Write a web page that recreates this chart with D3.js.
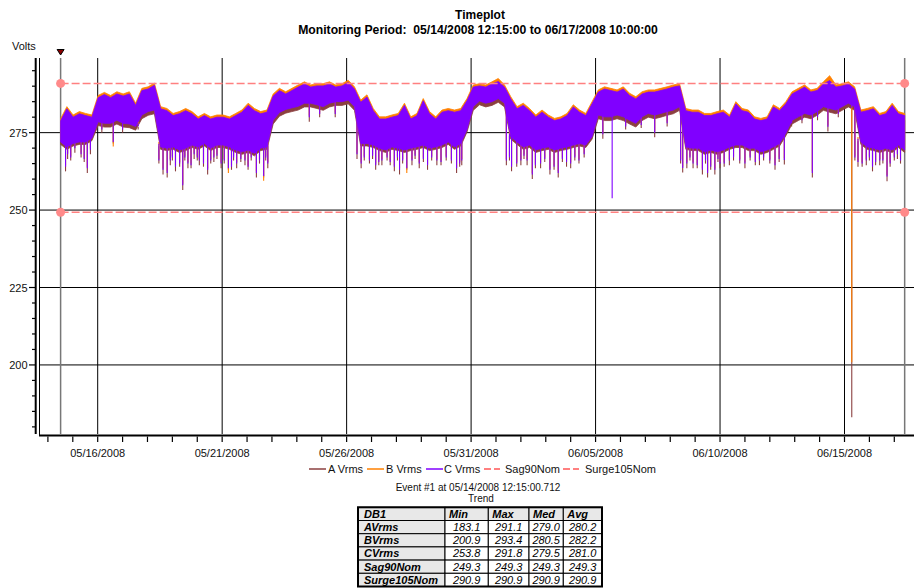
<!DOCTYPE html>
<html><head><meta charset="utf-8">
<script src="https://cdn.jsdelivr.net/npm/d3@7"></script>
<style>body{margin:0;background:#fff}svg{display:block;font-family:"Liberation Sans",Arial,sans-serif}text{white-space:pre}</style>
</head><body><svg id="c" width="914" height="588"></svg>
<script>
// ---------------- DATA ----------------
const seriesNames = ["A Vrms", "B Vrms", "C Vrms"];
const seriesColors = ["#8B4040", "#FF8000", "#8000FF"];
const dataStart = "2008-05-14 12:15";
const dataEnd = "2008-06-17 10:00";
const spikeBase = "2008-05-14 12:00";

// upper / lower envelope of each series, sampled evenly from dataStart to dataEnd (~6 h)
const aHi = [277.3,281.2,278.5,279.6,279.0,278.5,284.8,285.8,284.8,286.0,
 285.3,286.0,282.3,287.1,287.6,288.8,281.2,280.6,279.0,279.6,
 280.6,279.6,277.9,279.0,277.9,278.5,278.5,277.9,279.0,280.1,
 282.3,280.6,279.6,280.1,285.3,287.1,286.0,287.1,288.2,289.2,
 288.2,288.6,288.6,289.2,288.2,288.6,289.7,287.6,283.3,285.0,
 280.6,277.9,277.9,278.5,279.0,282.3,277.9,279.0,283.8,279.6,
 277.9,280.1,280.6,280.1,280.6,283.8,288.2,288.6,288.2,289.2,
 290.3,288.2,284.4,281.2,282.3,280.6,278.5,280.1,278.5,277.4,
 277.9,279.0,281.8,280.1,279.0,282.8,286.6,287.6,287.1,286.6,
 287.6,285.5,284.4,286.0,286.6,286.6,287.1,287.6,288.2,288.6,
 280.6,280.1,280.1,279.0,279.0,279.6,280.1,278.5,282.8,280.6,
 280.1,277.9,277.4,277.9,281.8,280.6,282.8,286.0,287.1,288.2,
 286.6,287.1,289.2,291.1,288.2,288.6,289.2,287.6,280.1,280.6,
 281.2,279.0,279.6,282.3,279.6,279.0];
const aLo = [271.2,269.6,270.7,271.2,271.2,272.4,
 277.3,276.8,276.8,277.8,276.8,276.6,275.8,279.5,280.6,281.1,
 269.6,269.2,269.6,268.6,269.2,270.2,269.6,270.7,269.2,270.2,270.2,269.6,268.6,268.0,268.6,267.5,269.2,269.6,
 277.8,280.3,281.3,281.8,282.3,283.3,283.3,282.8,282.2,283.3,283.8,283.8,284.3,282.2,
 270.7,270.7,270.2,269.2,268.6,269.6,269.2,268.6,269.2,269.6,270.2,269.2,269.6,270.2,271.2,269.6,270.7,275.2,
 282.2,284.0,283.3,283.8,284.8,283.3,
 272.9,271.2,269.6,270.2,268.6,269.2,269.6,268.6,269.2,269.6,270.2,270.7,270.2,272.9,
 279.5,278.9,278.9,279.5,278.9,277.8,276.8,278.9,280.0,279.5,280.0,280.6,281.1,282.2,
 269.6,269.2,269.2,268.0,268.6,268.0,268.6,269.6,270.2,270.2,269.2,269.2,268.0,268.6,269.6,270.7,274.0,
 277.8,278.9,280.0,279.5,280.6,282.2,281.6,281.1,282.2,283.3,282.2,
 271.2,269.6,269.2,268.6,269.2,268.6,270.2,268.6];
const bHi = [279.5,283.4,280.7,281.8,281.2,280.7,287.0,288.0,287.0,288.2,
 287.5,288.2,284.5,289.3,289.8,291.0,283.4,282.8,281.2,281.8,
 282.8,281.8,280.1,281.2,280.1,280.7,280.7,280.1,281.2,282.3,
 284.5,282.8,281.8,282.3,287.5,289.3,288.2,289.3,290.4,291.4,
 290.4,290.8,290.8,291.4,290.4,290.8,291.9,289.8,285.5,287.2,
 282.8,280.1,280.1,280.7,281.2,284.5,280.1,281.2,286.0,281.8,
 280.1,282.3,282.8,282.3,282.8,286.0,290.4,290.8,290.4,291.4,
 292.5,290.4,286.6,283.4,284.5,282.8,280.7,282.3,280.7,279.6,
 280.1,281.2,284.0,282.3,281.2,285.0,288.8,289.8,289.3,288.8,
 289.8,287.7,286.6,288.2,288.8,288.8,289.3,289.8,290.4,290.8,
 282.8,282.3,282.3,281.2,281.2,281.8,282.3,280.7,285.0,282.8,
 282.3,280.1,279.6,280.1,284.0,282.8,285.0,288.2,289.3,290.4,
 288.8,289.3,291.4,293.4,290.4,290.8,291.4,289.8,282.3,282.8,
 283.4,281.2,281.8,284.5,281.8,281.2];
const bLo = [272.6,271.0,272.1,272.6,272.6,273.8,279.1,278.6,278.6,279.6,
 278.6,278.4,277.6,281.3,282.4,282.9,271.0,270.6,271.0,270.0,
 270.6,271.6,271.0,272.1,270.6,271.6,271.6,271.0,270.0,269.4,
 270.0,268.9,270.6,271.0,279.6,282.1,283.1,283.6,284.1,285.1,
 285.1,284.6,284.0,285.1,285.6,285.6,286.1,284.0,272.1,272.1,
 271.6,270.6,270.0,271.0,270.6,270.0,270.6,271.0,271.6,270.6,
 271.0,271.6,272.6,271.0,272.1,276.6,284.0,285.8,285.1,285.6,
 286.6,285.1,274.3,272.6,271.0,271.6,270.0,270.6,271.0,270.0,
 270.6,271.0,271.6,272.1,271.6,274.3,281.3,280.7,280.7,281.3,
 280.7,279.6,278.6,280.7,281.8,281.3,281.8,282.4,282.9,284.0,
 271.0,270.6,270.6,269.4,270.0,269.4,270.0,271.0,271.6,271.6,
 270.6,270.6,269.4,270.0,271.0,272.1,275.4,279.6,280.7,281.8,
 281.3,282.4,284.0,283.4,282.9,284.0,285.1,284.0,272.6,271.0,
 270.6,270.0,270.6,270.0,271.6,270.0];
const cHi = [278.8,282.7,280.0,281.1,280.5,280.0,286.3,287.3,286.3,287.5,
 286.8,287.5,283.8,288.6,289.1,290.3,282.7,282.1,280.5,281.1,
 282.1,281.1,279.4,280.5,279.4,280.0,280.0,279.4,280.5,281.6,
 283.8,282.1,281.1,281.6,286.8,288.6,287.5,288.6,289.7,290.7,
 289.7,290.1,290.1,290.7,289.7,290.1,291.2,289.1,284.8,286.5,
 282.1,279.4,279.4,280.0,280.5,283.8,279.4,280.5,285.3,281.1,
 279.4,281.6,282.1,281.6,282.1,285.3,289.7,290.1,289.7,290.7,
 291.5,289.7,285.9,282.7,283.8,282.1,280.0,281.6,280.0,278.9,
 279.4,280.5,283.3,281.6,280.5,284.3,288.1,289.1,288.6,288.1,
 289.1,287.0,285.9,287.5,288.1,288.1,288.6,289.1,289.7,290.1,
 282.1,281.6,281.6,280.5,280.5,281.1,281.6,280.0,284.3,282.1,
 281.6,279.4,278.9,279.4,283.3,282.1,284.3,287.5,288.6,289.7,
 288.1,288.6,290.7,291.8,289.7,290.1,290.7,289.1,281.6,282.1,
 282.7,280.5,281.1,283.8,281.1,280.5];
const cLo = [272.0,270.4,271.5,272.0,272.0,273.2,278.5,278.0,278.0,279.0,
 278.0,277.8,277.0,280.7,281.8,282.3,270.4,270.0,270.4,269.4,
 270.0,271.0,270.4,271.5,270.0,271.0,271.0,270.4,269.4,268.8,
 269.4,268.3,270.0,270.4,279.0,281.5,282.5,283.0,283.5,284.5,
 284.5,284.0,283.4,284.5,285.0,285.0,285.5,283.4,271.5,271.5,
 271.0,270.0,269.4,270.4,270.0,269.4,270.0,270.4,271.0,270.0,
 270.4,271.0,272.0,270.4,271.5,276.0,283.4,285.2,284.5,285.0,
 286.0,284.5,273.7,272.0,270.4,271.0,269.4,270.0,270.4,269.4,
 270.0,270.4,271.0,271.5,271.0,273.7,280.7,280.1,280.1,280.7,
 280.1,279.0,278.0,280.1,281.2,280.7,281.2,281.8,282.3,283.4,
 270.4,270.0,270.0,268.8,269.4,268.8,269.4,270.4,271.0,271.0,
 270.0,270.0,268.8,269.4,270.4,271.5,274.8,279.0,280.1,281.2,
 280.7,281.8,283.4,282.8,282.3,283.4,284.5,283.4,272.0,270.4,
 270.0,269.4,270.0,269.4,271.0,269.4];

// downward spikes: hours after spikeBase, and the value reached by each series
const spikeHours = [5,7,14,26,29,51,99,103,106,111,118,123,129,134,142,148,155,162,170,178,
 189,196,200,240,286,290,304,310,322,327,334,339,346,354,363,382,387,430,435,444,
 450,455,463,472,480,488,492,523,532,573,600,604,610,619,624,631,636,645,660,674,
 689,698,725,740,769,777,783,790,797,807,763,
 10,20,23,95,108,115,120,126,132,138,145,151,158,165,167,174,181,184,192,198,
 293,298,301,307,315,318,325,330,342,350,358,367,372,377,385,
 433,440,447,458,467,476,484,496,500,505,
 598,607,614,622,627,634,640,649,655,665,670,678,684,693,
 766,773,780,786,793,800,804,810,
 40,60,75,250,265,545,560,585,705,715,730,750];
const spikeA = [262.5,266.5,268.5,262.0,268.0,271.5,261.5,260.5,264.5,262.5,256.5,263.5,266.5,264.5,261.5,265.5,263.5,263.0,263.5,264.5,
 260.5,260.5,263.5,278.5,266.5,263.5,263.0,264.5,262.5,261.5,263.0,264.5,263.5,263.0,264.5,262.0,264.5,264.5,262.5,264.5,
 264.5,260.0,263.5,261.5,260.5,264.0,263.5,273.0,280.0,273.5,262.1,263.5,263.5,261.5,260.5,261.5,263.5,264.5,263.5,264.5,
 263.0,264.7,260.5,275.4,264.0,264.5,262.5,264.5,259.3,266.5,183.1,
 266,267,265.5,265,266,264,266,263.5,266,264,265,266.5,265,263,266,265.5,263,266,265,266,
 266,265,266.5,264.5,266,264.5,266,265,266.5,265.5,266,264.5,266,265,264,
 266,264,266.5,263.5,265.5,263,265.5,266,265,267,
 265,266,263.5,265,263,265.5,264,266,265,266,264.5,266,265,265.5,
 266,264,266,264.5,265,264,266,265,
 275,275,276,280,280,276,276.5,277,277,278,279,280];
const spikeB = [264.5,268.5,270.5,264.0,270.0,270.5,263.5,262.5,266.5,264.5,258.5,265.5,268.5,266.5,263.5,267.5,265.5,262.0,265.5,266.5,
 262.5,259.5,265.5,280.5,268.5,265.5,265.0,266.5,264.5,263.5,262.0,266.5,265.5,265.0,266.5,264.0,266.5,266.5,264.5,266.5,
 266.5,262.0,265.5,263.5,262.5,266.0,265.5,275.0,282.0,275.5,264.1,265.5,265.5,263.5,262.5,263.5,265.5,266.5,265.5,266.5,
 265.0,266.7,262.5,277.4,266.0,266.5,264.5,266.5,261.3,268.5,200.9,
 267.5,268.5,267,266.5,267.5,265.5,267.5,265,267.5,265.5,266.5,268,266.5,264.5,267.5,267,264.5,267.5,266.5,267.5,
 267.5,266.5,268,266,267.5,266,267.5,266.5,268,267,267.5,266,267.5,266.5,265.5,
 267.5,265.5,268,265,267,264.5,267,267.5,266.5,268.5,
 266.5,267.5,265,266.5,264.5,267,265.5,267.5,266.5,267.5,266,267.5,266.5,267,
 267.5,265.5,267.5,266,266.5,265.5,267.5,266.5,
 276.5,276.5,277.5,281.5,281.5,277.5,278,278.5,278.5,279.5,280.5,281.5];
const spikeC = [264.0,268.0,270.0,263.5,269.5,272.0,263.0,262.0,266.0,264.0,258.0,265.0,268.0,266.0,263.0,267.0,265.0,263.5,265.0,266.0,
 262.0,261.0,265.0,280.0,268.0,265.0,264.5,266.0,264.0,263.0,263.5,266.0,265.0,264.5,266.0,263.5,266.0,266.0,264.0,266.0,
 266.0,261.5,265.0,263.0,262.0,265.5,265.0,274.5,253.8,275.0,263.6,265.0,265.0,263.0,262.0,263.0,265.0,266.0,265.0,266.0,
 264.5,266.2,262.0,276.9,265.5,266.0,264.0,266.0,260.8,268.0,283.0,
 267,268,266.5,266,267,265,267,264.5,267,265,266,267.5,266,264,267,266.5,264,267,266,267,
 267,266,267.5,265.5,267,265.5,267,266,267.5,266.5,267,265.5,267,266,265,
 267,265,267.5,264.5,266.5,264,266.5,267,266,268,
 266,267,264.5,266,264,266.5,265,267,266,267,265.5,267,266,266.5,
 267,265,267,265.5,266,265,267,266,
 276,276,277,281,281,277,277.5,278,278,279,280,281];

const sagName = "Sag90Nom", sagValue = 249.3;
const surgeName = "Surge105Nom", surgeValue = 290.9;

const yTickValues = [200, 225, 250, 275];
const xTickLabels = ["05/16/2008","05/21/2008","05/26/2008","05/31/2008","06/05/2008","06/10/2008","06/15/2008"];

const titleText = "Timeplot";
const subtitleText = "Monitoring Period:  05/14/2008 12:15:00 to 06/17/2008 10:00:00";
const eventText = "Event #1 at 05/14/2008 12:15:00.712";
const trendText = "Trend";

const tableHeader = ["DB1", "Min", "Max", "Med", "Avg"];
const tableRowNames = ["AVrms", "BVrms", "CVrms", "Sag90Nom", "Surge105Nom"];
const tableMin = [183.1, 200.9, 253.8, 249.3, 290.9];
const tableMax = [291.1, 293.4, 291.8, 249.3, 290.9];
const tableMed = [279.0, 280.5, 279.5, 249.3, 290.9];
const tableAvg = [280.2, 282.2, 281.0, 249.3, 290.9];

// ---------------- DRAW ----------------
const svg = d3.select("#c");
const pt = d3.timeParse("%Y-%m-%d %H:%M");
const pd = d3.timeParse("%m/%d/%Y");
const t0 = pt(dataStart), t1 = pt(dataEnd), tb = pt(spikeBase);

const plotL = 39, plotR = 914, plotT = 58, plotB = 434;
const x = d3.scaleTime().domain([pt("2008-05-13 15:25"), pt("2008-06-17 19:00")]).range([plotL, plotR]);
const y = d3.scaleLinear().domain([177.7, 299.1]).range([plotB, plotT]);

const n = cHi.length;
const times = d3.range(n).map(i => new Date(+t0 + (t1 - t0) * i / (n - 1)));

// grid
const grid = svg.append("g");
grid.selectAll(".hg").data(yTickValues).join("line")
  .attr("x1", plotL).attr("x2", plotR).attr("y1", d => y(d)).attr("y2", d => y(d))
  .attr("stroke", "#000").attr("stroke-width", 1);
grid.selectAll(".vg").data(xTickLabels.map(pd)).join("line")
  .attr("x1", d => x(d)).attr("x2", d => x(d)).attr("y1", plotT).attr("y2", plotB)
  .attr("stroke", "#000").attr("stroke-width", 1);
grid.selectAll(".vs").data([t0, t1]).join("line")
  .attr("x1", d => x(d)).attr("x2", d => x(d)).attr("y1", plotT).attr("y2", plotB)
  .attr("stroke", "#777").attr("stroke-width", 1.5);

// series
const hiArr = [aHi, bHi, cHi], loArr = [aLo, bLo, cLo], spArr = [spikeA, spikeB, spikeC];
const area = (hi, lo) => d3.area().x((d, i) => x(times[i])).y0((d, i) => y(lo[i])).y1((d, i) => y(hi[i]));
seriesNames.forEach((nm, s) => {
  const g = svg.append("g");
  g.append("path").datum(hiArr[s]).attr("d", area(hiArr[s], loArr[s]))
    .attr("fill", seriesColors[s]).attr("stroke", seriesColors[s]).attr("stroke-width", 0.8);
  g.selectAll("line").data(spikeHours).join("line")
    .each(function (h, k) {
      const t = new Date(+tb + h * 3600e3);
      const idx = d3.bisectCenter(times, t);
      const from = loArr[s][idx] + 1;
      d3.select(this).attr("x1", x(t)).attr("x2", x(t))
        .attr("y1", y(from)).attr("y2", y(Math.min(from, spArr[s][k])));
    })
    .attr("stroke", seriesColors[s]).attr("stroke-width", 1.1);
});

// reference lines
[sagValue, surgeValue].forEach(v => {
  svg.append("line").attr("x1", x(t0)).attr("x2", x(t1)).attr("y1", y(v)).attr("y2", y(v))
    .attr("stroke", "#FF8080").attr("stroke-width", 1.5).attr("stroke-dasharray", "8,3");
  [t0, t1].forEach(t => svg.append("circle").attr("cx", x(t)).attr("cy", y(v)).attr("r", 4.5).attr("fill", "#FF8A8A"));
});

// marker at start
svg.append("path")
  .attr("d", `M${x(t0) - 3.5},49.5 L${x(t0) + 3.5},49.5 L${x(t0)},55 Z`)
  .attr("fill", "#8B0000").attr("stroke", "#000").attr("stroke-width", 1);

// y axis
const ya = svg.append("g");
ya.append("line").attr("x1", 35.7).attr("x2", 35.7).attr("y1", plotT).attr("y2", plotB).attr("stroke", "#000").attr("stroke-width", 2);
ya.append("line").attr("x1", plotL + 0.5).attr("x2", plotL + 0.5).attr("y1", plotT).attr("y2", plotB + 1).attr("stroke", "#000").attr("stroke-width", 1);
ya.selectAll(".mt").data(d3.range(180, 300, 5)).join("line")
  .attr("x1", d => yTickValues.includes(d) ? 29 : 32).attr("x2", 36)
  .attr("y1", d => y(d)).attr("y2", d => y(d)).attr("stroke", "#000").attr("stroke-width", 1.2);
ya.selectAll("text").data(yTickValues).join("text")
  .attr("x", 27.5).attr("y", d => y(d) + 4).attr("text-anchor", "end")
  .attr("font-size", 11).attr("fill", "#111").text(d => d);
svg.append("text").attr("x", 12).attr("y", 50).attr("font-size", 11).attr("fill", "#111").text("Volts");

// x axis
const xa = svg.append("g");
xa.append("line").attr("x1", plotL).attr("x2", plotR).attr("y1", 435.5).attr("y2", 435.5).attr("stroke", "#000").attr("stroke-width", 2);
xa.selectAll(".xt").data(d3.timeDay.range(...x.domain())).join("line")
  .attr("x1", d => x(d)).attr("x2", d => x(d)).attr("y1", 436.5).attr("y2", 442)
  .attr("stroke", "#000").attr("stroke-width", 1.2);
xa.selectAll("text").data(xTickLabels).join("text")
  .attr("x", d => x(pd(d))).attr("y", 457).attr("text-anchor", "middle")
  .attr("font-size", 11).attr("fill", "#111").text(d => d);

// title
svg.append("text").attr("x", 480).attr("y", 19).attr("text-anchor", "middle").attr("font-size", 12).attr("font-weight", "bold").text(titleText);
svg.append("text").attr("x", 478).attr("y", 34).attr("text-anchor", "middle").attr("font-size", 12.2).attr("font-weight", "bold").text(subtitleText);

// legend
const legNames = seriesNames.concat([sagName, surgeName]);
const legColors = seriesColors.concat(["#FF8080", "#FF8080"]);
const legLineX = [309, 367, 426, 484, 563], legTextX = [328, 386, 444, 505, 585];
const lg = svg.append("g");
legNames.forEach((nm, i) => {
  const dashed = i >= 3;
  lg.append("line").attr("x1", legLineX[i]).attr("x2", legLineX[i] + (dashed ? 16 : 17)).attr("y1", 469).attr("y2", 469)
    .attr("stroke", legColors[i]).attr("stroke-width", dashed ? 2 : 1.5).attr("stroke-dasharray", dashed ? "7,3" : null);
  lg.append("text").attr("x", legTextX[i]).attr("y", 473).attr("font-size", 11).attr("fill", "#111").text(nm);
});

svg.append("text").attr("x", 478).attr("y", 491).attr("text-anchor", "middle").attr("font-size", 10).attr("fill", "#111").text(eventText);
svg.append("text").attr("x", 481).attr("y", 502).attr("text-anchor", "middle").attr("font-size", 10).attr("fill", "#111").text(trendText);

// table
const colX = [358, 445, 488.3, 529, 563.3, 602];
const rowY0 = 507.3, rowH = 13.2;
const rows = [tableHeader].concat(tableRowNames.map((nm, i) => [nm, tableMin[i], tableMax[i], tableMed[i], tableAvg[i]]));
const tg = svg.append("g");
rows.forEach((r, ri) => {
  r.forEach((v, ci) => {
    const gray = ri === 0 || ci === 0;
    tg.append("rect").attr("x", colX[ci]).attr("y", rowY0 + ri * rowH).attr("width", colX[ci + 1] - colX[ci]).attr("height", rowH)
      .attr("fill", gray ? "#E8E8E8" : "#fff").attr("stroke", "#000").attr("stroke-width", 1);
    const isNum = typeof v === "number";
    tg.append("text")
      .attr("x", isNum ? (colX[ci] + colX[ci + 1]) / 2 : colX[ci] + (ci === 0 ? 6 : 4))
      .attr("y", rowY0 + ri * rowH + 10.5)
      .attr("text-anchor", isNum ? "middle" : "start")
      .attr("font-size", 11).attr("font-style", "italic").attr("font-weight", gray ? "bold" : "normal")
      .attr("fill", "#000")
      .text(isNum ? v.toFixed(1) : v);
  });
});
tg.append("rect").attr("x", colX[0]).attr("y", rowY0).attr("width", colX[5] - colX[0]).attr("height", rowH * rows.length)
  .attr("fill", "none").attr("stroke", "#000").attr("stroke-width", 2);
</script></body></html>
